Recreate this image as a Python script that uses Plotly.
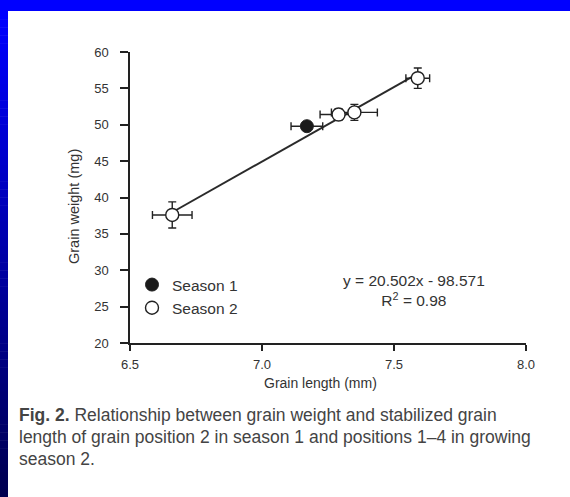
import plotly.graph_objects as go

# ---- data ----
season1_x = [7.17]
season1_y = [49.8]
season1_xerr = [0.06]
season1_yerr = [0.5]

season2_x = [6.66, 7.29, 7.35, 7.59]
season2_y = [37.6, 51.4, 51.7, 56.4]
season2_xerr = [0.075, 0.07, 0.087, 0.045]
season2_yerr = [1.8, 0.8, 1.1, 1.4]

fit_slope = 20.502
fit_intercept = -98.571
fit_r2 = 0.98

x_ticks = [6.5, 7.0, 7.5, 8.0]
x_ticklabels = ["6.5", "7.0", "7.5", "8.0"]
y_ticks = [20, 25, 30, 35, 40, 45, 50, 55, 60]

# ---- layout geometry ----
W, H = 570, 497
L, R, T, B = 130, 44, 52, 154
PW, PH = W - L - R, H - T - B


def px(x):
    return (x - L) / PW


def py(y):
    return (H - B - y) / PH


FONT = "Liberation Sans, Arial, sans-serif"
TXT = "#333333"
INK = "#222222"

all_x = season1_x + season2_x
fx = [min(all_x), max(all_x)]
fy = [fit_slope * v + fit_intercept for v in fx]

fig = go.Figure()
fig.add_trace(go.Scatter(x=fx, y=fy, mode="lines", line=dict(color="#2a2a2a", width=2),
                         showlegend=False, hoverinfo="skip"))
fig.add_trace(go.Scatter(
    x=season2_x, y=season2_y, mode="markers", name="Season 2",
    marker=dict(symbol="circle", size=13, color="white", line=dict(color=INK, width=1.4)),
    error_x=dict(type="data", array=season2_xerr, color=INK, thickness=1.4, width=4),
    error_y=dict(type="data", array=season2_yerr, color=INK, thickness=1.4, width=4),
))
fig.add_trace(go.Scatter(
    x=season1_x, y=season1_y, mode="markers", name="Season 1",
    marker=dict(symbol="circle", size=13, color="#1a1a1a", line=dict(color=INK, width=1)),
    error_x=dict(type="data", array=season1_xerr, color=INK, thickness=1.4, width=4),
    error_y=dict(type="data", array=season1_yerr, color=INK, thickness=1.4, width=4),
))

shapes = []
# blue frame strips (top and left, left one shaded darker toward the bottom)
shapes.append(dict(type="rect", xref="paper", yref="paper", layer="below",
                   x0=px(0), x1=px(W), y0=py(0), y1=py(11), line=dict(width=0), fillcolor="#0000ff"))
n = 60
top, bot = 11, H
for i in range(n):
    y0 = top + (bot - top) * i / n
    y1 = top + (bot - top) * (i + 1) / n
    t = i / (n - 1)
    b = int(round(255 - t * (255 - 80)))
    shapes.append(dict(type="rect", xref="paper", yref="paper", layer="below",
                       x0=px(0), x1=px(8), y0=py(y1 + 0.5), y1=py(y0),
                       line=dict(width=0), fillcolor=f"rgb(0,0,{b})"))

annotations = [
    dict(xref="paper", yref="paper", x=px(414), y=py(290), xanchor="center", yanchor="middle",
         text=f"y = {fit_slope}x - {abs(fit_intercept)}<br>R<sup>2</sup> = {fit_r2}",
         showarrow=False, font=dict(family=FONT, size=15.5, color=TXT), align="center"),
    dict(xref="paper", yref="paper", x=px(74), y=py(207), xanchor="center", yanchor="middle",
         text="Grain weight (mg)", textangle=-90, showarrow=False,
         font=dict(family=FONT, size=14.5, color=TXT)),
    dict(xref="paper", yref="paper", x=px(320), y=py(383), xanchor="center", yanchor="middle",
         text="Grain length (mm)", showarrow=False, font=dict(family=FONT, size=14, color=TXT)),
]
caption = [
    "<b>Fig. 2.</b> Relationship between grain weight and stabilized grain",
    "length of grain position 2 in season 1 and positions 1\u20134 in growing",
    "season 2.",
]
for k, line in enumerate(caption):
    annotations.append(dict(xref="paper", yref="paper", x=px(17), y=py(415 + 22 * k),
                            xanchor="left", yanchor="middle", text=line, showarrow=False,
                            font=dict(family=FONT, size=17.5, color="#444444")))

axis_common = dict(showgrid=False, zeroline=False, showline=True, linecolor=INK, linewidth=1.5,
                   ticks="outside", tickcolor=INK, tickwidth=1.5,
                   tickfont=dict(family=FONT, size=13, color=TXT))

fig.update_layout(
    width=W, height=H, margin=dict(l=L, r=R, t=T, b=B, pad=0),
    paper_bgcolor="white", plot_bgcolor="rgba(0,0,0,0)",
    xaxis=dict(range=[6.5, 8.0], tickvals=x_ticks, ticktext=x_ticklabels, ticklen=6,
               ticklabelstandoff=3, **axis_common),
    yaxis=dict(range=[20, 60], tickvals=y_ticks, ticklen=8, ticklabelstandoff=9, **axis_common),
    legend=dict(x=px(132), y=py(268), xanchor="left", yanchor="top", bgcolor="rgba(0,0,0,0)",
                font=dict(family=FONT, size=15.5, color=TXT), traceorder="reversed",
                itemwidth=30, tracegroupgap=0),
    shapes=shapes, annotations=annotations, showlegend=True,
)

fig.write_html("out.html")
